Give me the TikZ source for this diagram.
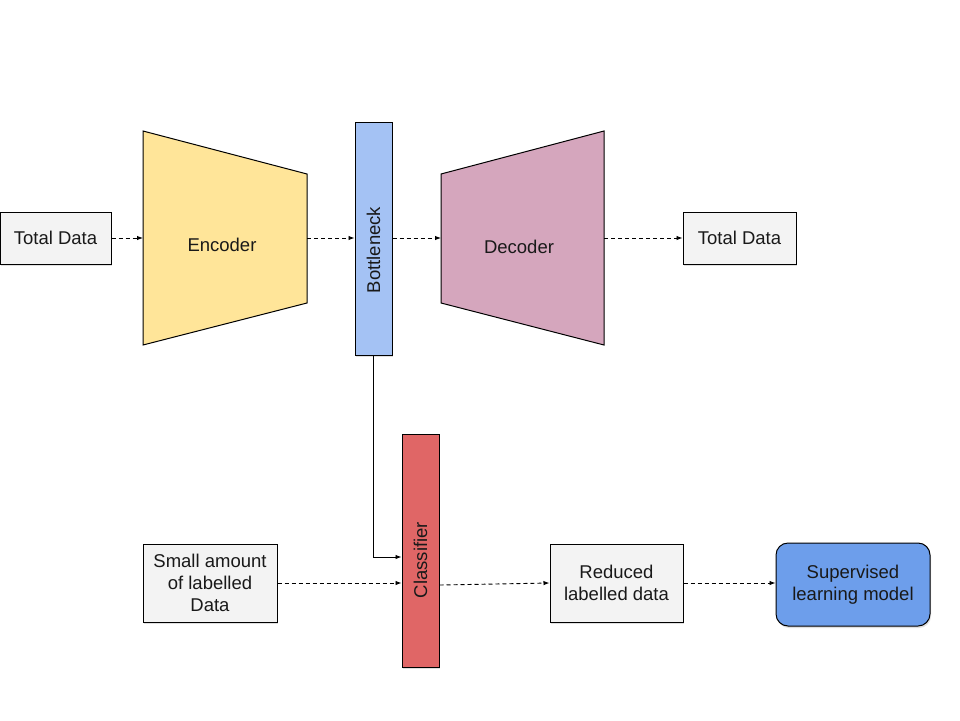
\documentclass[tikz,border=0pt]{standalone}
\usepackage{fontspec}
\setmainfont{Liberation Sans}
\usetikzlibrary{arrows.meta,shadows,calc}
\definecolor{boxgray}{HTML}{F3F3F3}
\definecolor{encfill}{HTML}{FFE599}
\definecolor{bnfill}{HTML}{A4C2F4}
\definecolor{decfill}{HTML}{D5A6BD}
\definecolor{clfill}{HTML}{E06666}
\definecolor{svfill}{HTML}{6D9EEB}
\begin{document}
\begin{tikzpicture}[x=1pt,y=-1pt,
  every node/.style={font=\fontsize{18.5}{22}\selectfont, text=black!90},
  databox/.style={draw=black, line width=1pt, fill=boxgray, inner sep=0pt, align=center,
     drop shadow={shadow xshift=1pt, shadow yshift=-2pt, opacity=0.25}},
  shapefill/.style={draw=black, line width=1pt},
  dflow/.style={densely dashed, dash pattern=on 4pt off 3pt, line width=0.9pt, -{Latex[length=6pt,width=4.5pt]}},
  sflow/.style={line width=0.9pt, -{Latex[length=6pt,width=4.5pt]}}
]
\useasboundingbox (0,0) rectangle (960,720);

% Total data (input)
\node[databox, minimum width=111pt, minimum height=52pt] (tdin) at (55.5,238) {Total Data};

% Encoder trapezoid
\filldraw[shapefill, fill=encfill] (143,131) -- (307,174) -- (307,303) -- (143,345) -- cycle;
\coordinate (encL) at (143,238);
\coordinate (encR) at (307,238);
\node (enc) at (222,245) {Encoder};

% Bottleneck
\node[draw=black, line width=1pt, fill=bnfill, minimum width=37pt, minimum height=233pt, inner sep=0pt,
  drop shadow={shadow xshift=1pt, shadow yshift=-2pt, opacity=0.25}] (bn) at (373.5,238.5) {};
\node[rotate=90] (bnlabel) at (373.5,250) {Bottleneck};

% Decoder trapezoid
\filldraw[shapefill, fill=decfill] (441,174) -- (604,131) -- (604,345) -- (441,303) -- cycle;
\coordinate (decL) at (441,238);
\coordinate (decR) at (604,238);
\node (dec) at (519,247) {Decoder};

% Total data (output)
\node[databox, minimum width=113pt, minimum height=52pt] (tdout) at (739.5,238) {Total Data};

% Classifier
\node[draw=black, line width=1pt, fill=clfill, minimum width=37pt, minimum height=233pt, inner sep=0pt,
  drop shadow={shadow xshift=1pt, shadow yshift=-2pt, opacity=0.25}] (cl) at (420.5,550.5) {};
\node[rotate=90] (cllabel) at (420.5,560) {Classifier};

% Small amount
\node[databox, minimum width=134pt, minimum height=78pt] (small) at (210,583) {Small amount\\of labelled\\Data};

% Reduced
\node[databox, minimum width=133pt, minimum height=78pt] (red) at (616.5,583) {Reduced\\labelled data};

% Supervised
\node[draw=black, line width=1pt, fill=svfill, rounded corners=12pt, minimum width=154pt, minimum height=83pt,
  inner sep=0pt, align=center, drop shadow={shadow xshift=1pt, shadow yshift=-2pt, opacity=0.25}] (sup) at (853,584.5) {Supervised\\learning model};

% connectors
\draw[dflow] (tdin.east) -- (encL);
\draw[dflow] (encR) -- (bn.west |- encR);
\draw[dflow] (bn.east |- decL) -- (decL);
\draw[dflow] (decR) -- (tdout.west |- decR);
\draw[sflow] (bn.south) -- (bn.south |- 0,557) -- (cl.west |- 0,557);
\draw[dflow] (small.east) -- (cl.west |- small.east);
\draw[dflow] (cl.east |- 0,585) -- (red.west);
\draw[dflow] (red.east) -- (sup.west |- red.east);
\end{tikzpicture}
\end{document}
